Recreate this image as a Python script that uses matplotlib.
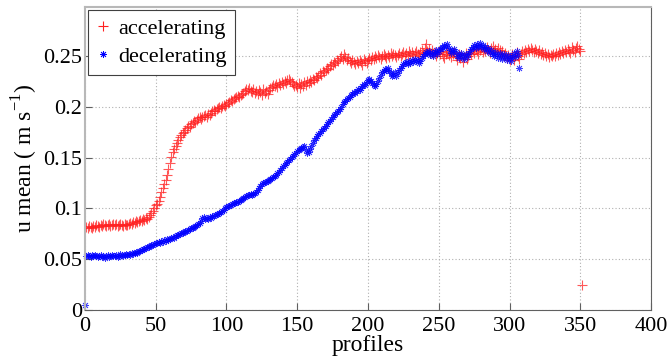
import numpy as np
import matplotlib
matplotlib.use("Agg")
import matplotlib.pyplot as plt
from matplotlib.ticker import FormatStrFormatter

# accelerating: profiles 1..351
accel = [
    0.082, 0.081, 0.083, 0.082, 0.081, 0.083, 0.082, 0.084, 0.083, 0.082,
    0.084, 0.083, 0.085, 0.084, 0.083, 0.084, 0.085, 0.083, 0.084, 0.085,
    0.084, 0.085, 0.083, 0.084, 0.085, 0.084, 0.083, 0.085, 0.084, 0.084,
    0.085, 0.086, 0.085, 0.087, 0.086, 0.088, 0.087, 0.088, 0.089, 0.088,
    0.090, 0.089, 0.091, 0.090, 0.092, 0.094, 0.096, 0.098, 0.100, 0.103,
    0.104, 0.107, 0.111, 0.116, 0.120, 0.124, 0.128, 0.133, 0.139, 0.145,
    0.151, 0.156, 0.159, 0.162, 0.165, 0.167, 0.170, 0.172, 0.174, 0.175,
    0.177, 0.179, 0.181, 0.180, 0.183, 0.184, 0.186, 0.185, 0.187, 0.189,
    0.190, 0.188, 0.190, 0.191, 0.192, 0.190, 0.193, 0.192, 0.194, 0.196,
    0.197, 0.196, 0.198, 0.199, 0.200, 0.199, 0.201, 0.202, 0.201, 0.203,
    0.204, 0.205, 0.207, 0.206, 0.208, 0.209, 0.210, 0.211, 0.210, 0.212,
    0.213, 0.214, 0.216, 0.218, 0.217, 0.219, 0.216, 0.215, 0.218, 0.214,
    0.216, 0.213, 0.217, 0.215, 0.212, 0.218, 0.214, 0.216, 0.213, 0.217,
    0.219, 0.220, 0.222, 0.221, 0.223, 0.220, 0.224, 0.222, 0.225, 0.223,
    0.226, 0.224, 0.227, 0.228, 0.226, 0.225, 0.223, 0.221, 0.222, 0.220,
    0.224, 0.219, 0.223, 0.221, 0.225, 0.222, 0.226, 0.224, 0.227, 0.225,
    0.228, 0.227, 0.230, 0.229, 0.231, 0.233, 0.232, 0.235, 0.234, 0.236,
    0.238, 0.237, 0.240, 0.242, 0.241, 0.244, 0.243, 0.246, 0.245, 0.248,
    0.250, 0.247, 0.252, 0.249, 0.246, 0.248, 0.245, 0.243, 0.246, 0.244,
    0.242, 0.245, 0.243, 0.246, 0.244, 0.241, 0.247, 0.245, 0.243, 0.246,
    0.248, 0.246, 0.249, 0.247, 0.250, 0.248, 0.251, 0.249, 0.247, 0.250,
    0.252, 0.250, 0.248, 0.251, 0.249, 0.253, 0.250, 0.252, 0.251, 0.249,
    0.251, 0.253, 0.250, 0.252, 0.254, 0.251, 0.253, 0.250, 0.255, 0.252,
    0.254, 0.251, 0.253, 0.255, 0.252, 0.250, 0.254, 0.256, 0.253, 0.258,
    0.262, 0.255, 0.257, 0.253, 0.256, 0.252, 0.254, 0.250, 0.253, 0.255,
    0.252, 0.254, 0.250, 0.248, 0.252, 0.255, 0.251, 0.253, 0.249, 0.252,
    0.254, 0.250, 0.246, 0.252, 0.248, 0.251, 0.244, 0.249, 0.253, 0.247,
    0.250, 0.254, 0.252, 0.256, 0.253, 0.257, 0.255, 0.252, 0.256, 0.258,
    0.254, 0.257, 0.255, 0.259, 0.256, 0.253, 0.258, 0.260, 0.255, 0.257,
    0.254, 0.258, 0.256, 0.252, 0.255, 0.250, 0.253, 0.248, 0.251, 0.246,
    0.249, 0.252, 0.246, 0.250, 0.254, 0.250, 0.247, 0.252, 0.255, 0.253,
    0.256, 0.254, 0.257, 0.255, 0.258, 0.256, 0.254, 0.257, 0.255, 0.253,
    0.256, 0.252, 0.254, 0.251, 0.253, 0.250, 0.252, 0.249, 0.251, 0.250,
    0.252, 0.250, 0.253, 0.251, 0.254, 0.252, 0.255, 0.253, 0.256, 0.254,
    0.257, 0.255, 0.253, 0.259, 0.256, 0.254, 0.258, 0.260, 0.257, 0.255,
    0.025,
]

# decelerating: profiles 0..307
decel = [
    0.005,
    0.053, 0.054, 0.053, 0.052, 0.054, 0.053, 0.054, 0.053, 0.052, 0.053,
    0.054, 0.052, 0.053, 0.051, 0.053, 0.054, 0.052, 0.053, 0.054, 0.053,
    0.053, 0.054, 0.052, 0.053, 0.055, 0.054, 0.053, 0.054, 0.055, 0.054,
    0.055, 0.054, 0.056, 0.055, 0.056, 0.057, 0.056, 0.058, 0.058, 0.059,
    0.060, 0.060, 0.061, 0.062, 0.062, 0.063, 0.064, 0.064, 0.065, 0.066,
    0.066, 0.067, 0.066, 0.068, 0.067, 0.069, 0.068, 0.070, 0.069, 0.070,
    0.071, 0.072, 0.071, 0.073, 0.074, 0.074, 0.075, 0.076, 0.076, 0.077,
    0.078, 0.078, 0.079, 0.080, 0.081, 0.081, 0.082, 0.083, 0.084, 0.085,
    0.086, 0.088, 0.091, 0.092, 0.090, 0.091, 0.090, 0.092, 0.091, 0.093,
    0.093, 0.094, 0.095, 0.095, 0.096, 0.097, 0.098, 0.099, 0.100, 0.101,
    0.102, 0.102, 0.103, 0.104, 0.105, 0.105, 0.106, 0.106, 0.107, 0.108,
    0.109, 0.110, 0.111, 0.112, 0.113, 0.113, 0.114, 0.113, 0.114, 0.115,
    0.116, 0.118, 0.120, 0.122, 0.124, 0.125, 0.126, 0.126, 0.127, 0.128,
    0.129, 0.130, 0.131, 0.132, 0.133, 0.135, 0.136, 0.138, 0.140, 0.142,
    0.143, 0.145, 0.146, 0.148, 0.149, 0.151, 0.152, 0.154, 0.155, 0.157,
    0.158, 0.159, 0.160, 0.161, 0.162, 0.158, 0.155, 0.156, 0.159, 0.162,
    0.165, 0.167, 0.169, 0.171, 0.173, 0.174, 0.176, 0.178, 0.179, 0.181,
    0.183, 0.185, 0.186, 0.188, 0.190, 0.192, 0.193, 0.195, 0.196, 0.198,
    0.200, 0.203, 0.205, 0.206, 0.208, 0.209, 0.210, 0.212, 0.213, 0.215,
    0.214, 0.216, 0.218, 0.217, 0.219, 0.221, 0.223, 0.222, 0.225, 0.227,
    0.228, 0.226, 0.224, 0.222, 0.221, 0.223, 0.226, 0.229, 0.232, 0.234,
    0.235, 0.237, 0.236, 0.238, 0.235, 0.233, 0.231, 0.232, 0.234, 0.231,
    0.233, 0.236, 0.238, 0.240, 0.242, 0.243, 0.244, 0.242, 0.245, 0.243,
    0.246, 0.244, 0.247, 0.245, 0.246, 0.243, 0.245, 0.248, 0.250, 0.252,
    0.254, 0.253, 0.255, 0.251, 0.253, 0.250, 0.254, 0.256, 0.252, 0.255,
    0.257, 0.259, 0.258, 0.261, 0.260, 0.262, 0.258, 0.256, 0.253, 0.255,
    0.257, 0.254, 0.250, 0.248, 0.251, 0.253, 0.250, 0.247, 0.252, 0.249,
    0.252, 0.255, 0.257, 0.259, 0.261, 0.258, 0.262, 0.260, 0.263, 0.259,
    0.261, 0.257, 0.259, 0.255, 0.258, 0.253, 0.256, 0.252, 0.250, 0.254,
    0.251, 0.248, 0.253, 0.250, 0.247, 0.252, 0.249, 0.246, 0.251, 0.248,
    0.245, 0.250, 0.253, 0.249, 0.255, 0.251, 0.238,
]

x_ticks = [0, 50, 100, 150, 200, 250, 300, 350, 400]
y_ticks = [0, 0.05, 0.1, 0.15, 0.2, 0.25]

plt.rcParams["font.family"] = ["Liberation Serif", "DejaVu Serif"]
plt.rcParams["mathtext.fontset"] = "custom"
plt.rcParams["mathtext.rm"] = "Liberation Serif"
plt.rcParams["font.size"] = 16

fig = plt.figure(figsize=(6.68, 3.63), dpi=100)
ax = fig.add_axes([0.1272, 0.146, 0.8474, 0.8347])

xa = np.arange(1, len(accel) + 1)
xd = np.arange(0, len(decel))
ax.plot(xa, accel, "+", color="#ff2020", ms=6.5, mew=0.8, alpha=0.75,
        label="accelerating")
# matlab-style asterisk: 8 spokes
ax.plot(xd, decel, marker=(8, 2, 0), ls="none", color="#0000ff", ms=5, mew=0.6,
        alpha=0.75, label="decelerating", clip_on=False)

ax.set_xlim(0, 400)
ax.set_ylim(0, 0.2985)
ax.set_xticks(x_ticks)
ax.set_yticks(y_ticks)
ax.yaxis.set_major_formatter(FormatStrFormatter("%g"))
ax.grid(True, linestyle=(0, (1, 2)), color="#b0b0b0", linewidth=0.8)
ax.tick_params(direction="in", length=5, color="#606060")
ax.tick_params(axis="x", pad=5)
ax.tick_params(axis="y", pad=2)
for side in ["bottom", "right"]:
    ax.spines[side].set_color("#606060")
for side in ["left", "top"]:
    ax.spines[side].set_color("#b8b8b8")
    ax.spines[side].set_linewidth(1.5)

ax.set_xlabel("profiles", fontsize=17, labelpad=-1)
ax.set_ylabel(r"u mean ( m s$^{\mathregular{-1}}$)", fontsize=17, labelpad=2)

leg = ax.legend(loc="upper left", fancybox=False, edgecolor="#404040",
                framealpha=1, borderaxespad=0.15, handlelength=0.6,
                handletextpad=0.4, borderpad=0.35, labelspacing=0.35,
                fontsize=16)
leg.get_frame().set_linewidth(0.8)
for h in leg.legend_handles:
    h.set_alpha(1)

fig.savefig("out.png", dpi=100)
